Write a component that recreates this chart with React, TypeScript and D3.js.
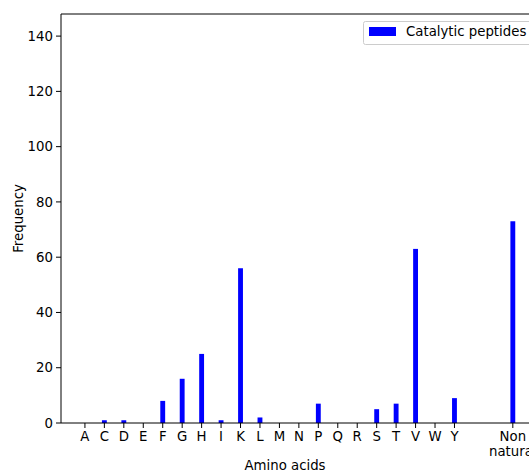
import React from "react";
import * as d3 from "d3";

const categories = ["A", "C", "D", "E", "F", "G", "H", "I", "K", "L", "M", "N", "P", "Q", "R", "S", "T", "V", "W", "Y", "Non\nnatural"];
const positions = [0, 1, 2, 3, 4, 5, 6, 7, 8, 9, 10, 11, 12, 13, 14, 15, 16, 17, 18, 19, 22];
const frequencies = [0, 1, 1, 0, 8, 16, 25, 1, 56, 2, 0, 0, 7, 0, 0, 5, 7, 63, 0, 9, 73];
const yTicks = [0, 20, 40, 60, 80, 100, 120, 140];
const seriesName = "Catalytic peptides";

const W = 529;
const H = 473;
const left = 61;
const top = 14;
const bottom = 423;
const right = 560;

export default function App() {
  const x = d3.scaleLinear().domain([-1.23, 23.9]).range([left, left + (23.9 + 1.23) * 19.45]);
  const y = d3.scaleLinear().domain([0, 148]).range([bottom, top]);
  const barW = x(0.25) - x(0);
  const font = "DejaVu Sans, sans-serif";
  const fs = 13.3;

  return (
    <svg width={W} height={H} style={{ position: "absolute", left: 0, top: 0 }}>
      <rect x={0} y={0} width={W} height={H} fill="#fff" />
      {frequencies.map((v, i) => (
        <rect
          key={i}
          x={x(positions[i]) - barW / 2}
          y={y(v)}
          width={barW}
          height={y(0) - y(v)}
          fill="#0000ff"
        />
      ))}
      {/* spines */}
      <line x1={left} x2={left} y1={top} y2={bottom} stroke="#000" strokeWidth={1} />
      <line x1={left} x2={right} y1={bottom} y2={bottom} stroke="#000" strokeWidth={1} />
      <line x1={left} x2={right} y1={top} y2={top} stroke="#000" strokeWidth={1} />
      {/* y ticks */}
      {yTicks.map((t) => (
        <g key={t}>
          <line x1={left - 5} x2={left} y1={y(t)} y2={y(t)} stroke="#000" />
          <text x={left - 8} y={y(t)} dy="0.35em" textAnchor="end" fontFamily={font} fontSize={fs} fill="#000">
            {t}
          </text>
        </g>
      ))}
      {/* x ticks */}
      {categories.map((c, i) => {
        const lines = c.split("\n");
        return (
          <g key={c}>
            <line x1={x(positions[i])} x2={x(positions[i])} y1={bottom} y2={bottom + 5} stroke="#000" />
            {lines.map((ln, j) => (
              <text key={j} x={x(positions[i])} y={bottom + 18 + j * 15} textAnchor="middle" fontFamily={font} fontSize={fs} fill="#000">
                {ln}
              </text>
            ))}
          </g>
        );
      })}
      <text x={285} y={470} textAnchor="middle" fontFamily={font} fontSize={fs} fill="#000">
        Amino acids
      </text>
      <text transform={`translate(23,${(top + bottom) / 2}) rotate(-90)`} textAnchor="middle" fontFamily={font} fontSize={fs} fill="#000">
        Frequency
      </text>
      {/* legend */}
      <rect x={363.5} y={21.5} width={190} height={23} rx={2} fill="#fff" fillOpacity={0.8} stroke="#ccc" />
      <rect x={369} y={27} width={27} height={9} fill="#0000ff" />
      <text x={406} y={36} fontFamily={font} fontSize={fs} fill="#000">
        {seriesName}
      </text>
    </svg>
  );
}
